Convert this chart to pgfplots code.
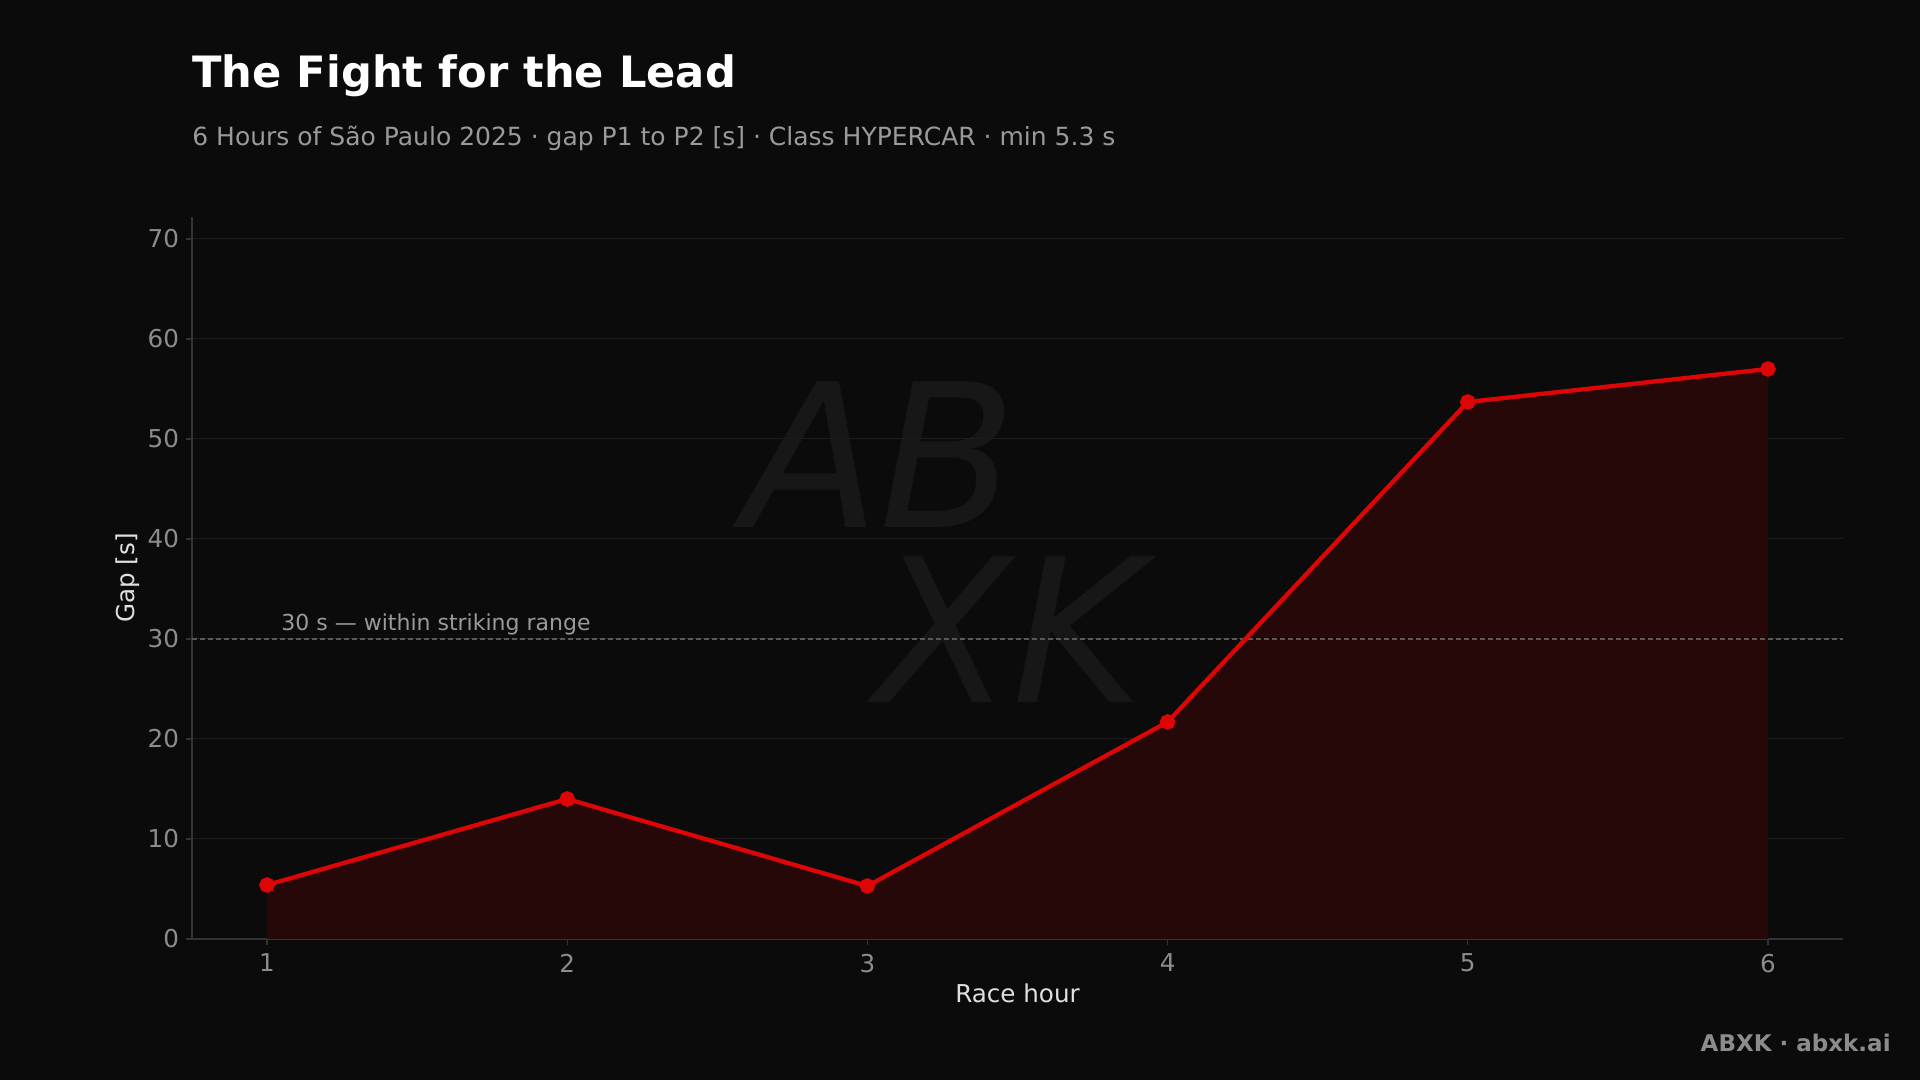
\documentclass[border=0pt]{standalone}
\usepackage{fontspec}
\setmainfont{DejaVu Sans}
\usepackage{pgfplots}
\pgfplotsset{compat=1.18}

\definecolor{bg}{HTML}{0B0B0B}
\definecolor{racered}{HTML}{DD0505}
\definecolor{areared}{HTML}{260808}
\definecolor{gridc}{HTML}{1C1C1C}
\definecolor{spine}{HTML}{333333}
\definecolor{ticklab}{HTML}{8C8C8C}
\definecolor{subgray}{HTML}{9A9A9A}
\definecolor{wm}{HTML}{171717}

\pgfplotstableread{
hour gap
1 5.4
2 14.0
3 5.3
4 21.7
5 53.7
6 57.0
}\gapdata

\begin{document}
\begin{tikzpicture}
\fill[bg] (0,0) rectangle (960pt,540pt);
\useasboundingbox (0,0) rectangle (960pt,540pt);

% watermark
\node[wm, font=\fontsize{100}{100}\selectfont\itshape, anchor=south, inner sep=0] at (440pt,276pt) {AB};
\node[wm, font=\fontsize{100}{100}\selectfont\itshape, anchor=north, inner sep=0] at (505pt,262pt) {XK};

\begin{axis}[
  at={(96pt,70.5pt)}, anchor=south west,
  scale only axis, width=825.5pt, height=361pt,
  xmin=0.75, xmax=6.25, ymin=0, ymax=72.2,
  xtick={1,...,6}, ytick={0,10,...,70},
  axis x line*=bottom, axis y line*=left,
  axis line style={spine, line width=0.6pt},
  x axis line style={-}, y axis line style={-},
  tick style={spine, line width=0.6pt},
  tick align=outside, major tick length=3pt,
  ymajorgrids, grid style={gridc, line width=0.5pt},
  /pgf/number format/assume math mode=true,
  tick label style={ticklab, font=\fontsize{12.3}{14}\selectfont},
  xticklabel style={yshift=-1pt},
  label style={white!88!black, font=\fontsize{12.3}{14}\selectfont},
  xlabel={Race hour}, ylabel={Gap [s]},
  xlabel style={yshift=1.5pt},
  ylabel style={yshift=-3pt},
  clip=false,
]
\addplot[draw=none, fill=areared] table[x=hour, y=gap] {\gapdata} \closedcycle;
\addplot[gray!70!black, dashed, dash pattern=on 2.5pt off 1.5pt, line width=0.6pt] coordinates {(0.75,30) (6.25,30)};
\addplot[racered, line width=2.15pt, mark=*, mark size=2.8pt, mark options={solid}] table[x=hour, y=gap] {\gapdata};
\node[subgray, anchor=south west, font=\fontsize{11}{13}\selectfont, inner sep=1pt] at (axis cs:1.04,30.2) {30 s — within striking range};
\end{axis}

\node[anchor=base west, white, font=\fontsize{21.6}{26}\bfseries\selectfont, inner sep=0] at (96pt,496pt) {The Fight for the Lead};
\node[anchor=base west, subgray, font=\fontsize{12.5}{15}\selectfont, inner sep=0] at (96pt,467pt) {6 Hours of São Paulo 2025 · gap P1 to P2 [s] · Class HYPERCAR · min 5.3 s};
\node[anchor=base east, gray!90!white, font=\fontsize{11.5}{13}\bfseries\selectfont, inner sep=0] at (945.5pt,14pt) {ABXK · abxk.ai};
\end{tikzpicture}
\end{document}
